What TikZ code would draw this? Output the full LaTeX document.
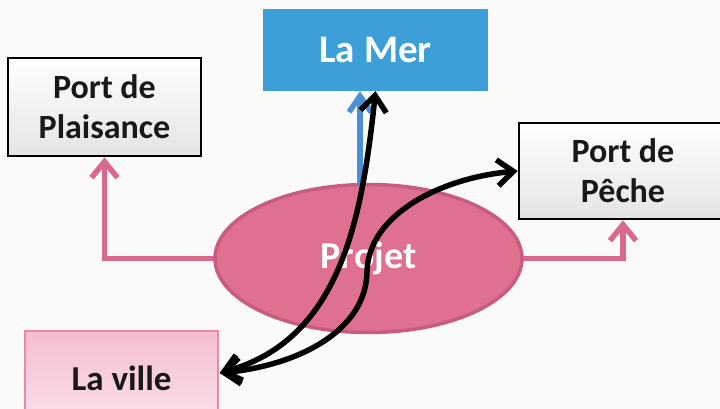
\documentclass[tikz,border=0pt]{standalone}
\usepackage{fontspec}
\setmainfont{Carlito}
\usetikzlibrary{shapes.geometric,arrows.meta,calc}
\definecolor{bgc}{HTML}{FAFAF9}
\definecolor{merblue}{HTML}{3C9FD8}
\definecolor{arrblue}{HTML}{4A8FD8}
\definecolor{projfill}{HTML}{E0708F}
\definecolor{projedge}{HTML}{C75B80}
\definecolor{pinkline}{HTML}{D9688C}
\definecolor{villetop}{HTML}{F5BDD0}
\definecolor{villebot}{HTML}{FBE2EC}
\definecolor{villeedge}{HTML}{E88AAA}
\definecolor{greybot}{HTML}{E4E4E2}
\begin{document}
\begin{tikzpicture}[x=1pt,y=-1pt,
  txt/.style={font=\bfseries\fontsize{34}{40}\selectfont, align=center, inner sep=0pt},
  whitebox/.style={txt, draw=black, line width=2.6pt, top color=white, bottom color=greybot, text=black!90},
  merbox/.style={txt, fill=merblue, text=white, font=\bfseries\fontsize{39}{44}\selectfont},
  villebox/.style={txt, draw=villeedge, line width=1.4pt, top color=villetop, bottom color=villebot, text=black!90, font=\bfseries\fontsize{35}{40}\selectfont},
  projshape/.style={txt, ellipse, fill=projfill, draw=projedge, line width=3.5pt, text=white, font=\bfseries\fontsize{38}{42}\selectfont},
  pinkarrow/.style={draw=pinkline, line width=5.5pt, -{Straight Barb[length=16pt,width=26pt]}},
  bluearrow/.style={draw=arrblue, line width=5.5pt, -{Straight Barb[length=16pt,width=22pt]}},
  blackarrow/.style={draw=black, line width=5.5pt, line cap=round, {Straight Barb[length=16pt,width=26pt]}-{Straight Barb[length=16pt,width=26pt]}}
]
\fill[bgc] (0,0) rectangle (720,409);
\useasboundingbox (0,0) rectangle (720,409);
\begin{scope}
\clip (0,0) rectangle (720,409);
\node[merbox, minimum width=225pt, minimum height=82pt] (mer) at (375.5,50) {La Mer};
\node[whitebox, minimum width=193pt, minimum height=98pt] (plais) at (104.5,107) {Port de\\Plaisance};
\node[whitebox, minimum width=208pt, minimum height=96pt] (peche) at (623,171) {Port de\\Pêche};
\node[villebox, minimum width=193pt, minimum height=94pt] (ville) at (121.5,378) {La ville};

\draw[pinkarrow] (215,258.5) -| (plais.south);
\draw[pinkarrow] (522,258.5) -| (peche.south);

\node[projshape, minimum width=307pt, minimum height=148pt] (proj) at (368.5,258.5) {Projet};

\coordinate (bl) at (360,186);
\draw[bluearrow] (bl) -- (bl |- mer.south);

\draw[blackarrow] (mer.south) .. controls (362,220) and (340,340) .. ($(ville.east)+(1,-5)$);
\coordinate (mid) at (367,272);
\draw[blackarrow] (peche.west) .. controls (440,178) and (368,215) .. (mid) .. controls (366,330) and (300,365) .. ($(ville.east)+(1,-5)$);
\end{scope}
\end{tikzpicture}
\end{document}
